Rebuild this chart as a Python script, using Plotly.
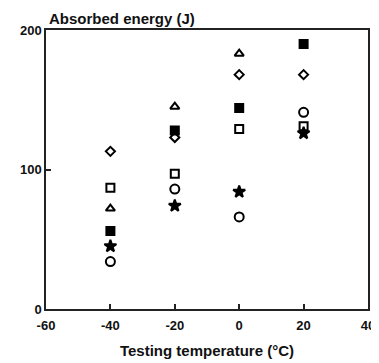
import plotly.graph_objects as go

temps = [-40, -20, 0, 20]
diamond_open = [113, 123, 168, 168]
square_open = [87, 97, 129, 131]
triangle_open = [72, 145, 183, None]
square_filled = [56, 128, 144, 190]
star = [45, 74, 84, 126]
circle_open = [34, 86, 66, 141]

x_ticks = [-60, -40, -20, 0, 20, 40]
y_ticks = [0, 100, 200]

series = [
    ("diamond-open", diamond_open, 7),
    ("square-open", square_open, 8),
    ("triangle-up-open", triangle_open, 8),
    ("square", square_filled, 8),
    ("star", star, 9),
    ("circle-open", circle_open, 9),
]

fig = go.Figure()
for sym, vals, sz in series:
    fig.add_trace(go.Scatter(
        x=temps, y=vals, mode="markers",
        marker=dict(symbol=sym, size=sz, color="black",
                    line=dict(color="black", width=2)),
        showlegend=False))

fam = "Liberation Sans, Arial, sans-serif"

# page body has an 8px default margin, so margins are reduced by 8px
fig.update_layout(
    width=379, height=363,
    margin=dict(l=32, r=13, t=22, b=62),
    paper_bgcolor="white", plot_bgcolor="white",
    font=dict(family=fam, color="#111", size=13),
    annotations=[dict(text="<b>Absorbed energy (J)</b>", x=0, xref="paper",
                      y=1, yref="paper", xanchor="left", yanchor="bottom",
                      yshift=1, xshift=1, showarrow=False,
                      font=dict(family=fam, size=15, color="#111"))],
)
fig.update_xaxes(
    range=[-60, 40], tickvals=x_ticks,
    ticktext=[f"<b>{v}</b>" for v in x_ticks],
    ticks="inside", ticklen=5, tickwidth=1.5, tickcolor="#222",
    ticklabelstandoff=4,
    showline=True, linecolor="#222", linewidth=1.5, mirror=True,
    showgrid=False, zeroline=False,
    title=dict(text="<b>Testing temperature (°C)</b>", standoff=13,
               font=dict(size=15)),
)
fig.update_yaxes(
    range=[0, 200], tickvals=y_ticks,
    ticktext=[f"<b>{v}</b>" for v in y_ticks],
    ticks="inside", ticklen=5, tickwidth=1.5, tickcolor="#222",
    showline=True, linecolor="#222", linewidth=1.5, mirror=True,
    showgrid=False, zeroline=False,
)

fig.write_html("out.html")
